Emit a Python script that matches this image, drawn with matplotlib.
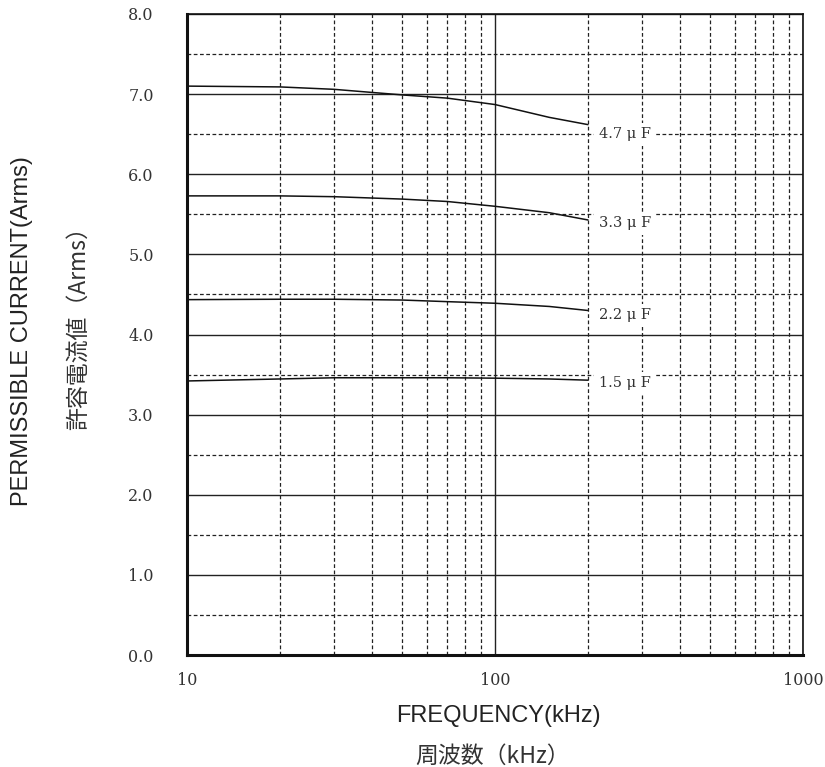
import matplotlib
matplotlib.use('Agg')
import matplotlib.pyplot as plt
from matplotlib.ticker import FixedLocator, NullFormatter

# data
freq = [10, 20, 30, 50, 70, 100, 150, 200]
i_47 = [7.10, 7.09, 7.06, 6.99, 6.95, 6.87, 6.71, 6.62]
i_33 = [5.73, 5.73, 5.72, 5.69, 5.66, 5.60, 5.52, 5.43]
i_22 = [4.435, 4.44, 4.44, 4.43, 4.41, 4.39, 4.35, 4.30]
i_15 = [3.42, 3.445, 3.46, 3.46, 3.46, 3.455, 3.445, 3.43]
series = [i_47, i_33, i_22, i_15]
labels = ['4.7 μ F', '3.3 μ F', '2.2 μ F', '1.5 μ F']
label_y = [6.5, 5.39, 4.24, 3.39]
label_x = 217

xticks = [10, 100, 1000]
xminor = [20, 30, 40, 50, 60, 70, 80, 90, 200, 300, 400, 500, 600, 700, 800, 900]
yticks = [0, 1, 2, 3, 4, 5, 6, 7, 8]
yminor = [0.5, 1.5, 2.5, 3.5, 4.5, 5.5, 6.5, 7.5]

fig = plt.figure(figsize=(8.25, 7.67), dpi=100)
ax = fig.add_axes([187/825, 112/767, 616/825, 641/767])

ax.set_xscale('log')
ax.set_xlim(10, 1000)
ax.set_ylim(0, 8)

ax.xaxis.set_major_locator(FixedLocator(xticks))
ax.xaxis.set_minor_locator(FixedLocator(xminor))
ax.xaxis.set_minor_formatter(NullFormatter())
ax.set_xticklabels([str(v) for v in xticks])
ax.yaxis.set_major_locator(FixedLocator(yticks))
ax.yaxis.set_minor_locator(FixedLocator(yminor))
ax.set_yticklabels(['%.1f' % v for v in yticks])

ax.grid(which='major', color='#222222', linestyle='-', linewidth=1.0)
ax.grid(which='minor', color='#222222', linestyle=(0, (3, 2)), linewidth=0.9)
ax.set_axisbelow(True)

ax.tick_params(which='both', length=0)
ax.tick_params(axis='y', pad=24, labelsize=11.5, labelcolor='#333333')
ax.tick_params(axis='x', pad=12, labelsize=11.5, labelcolor='#333333')
for lab in ax.get_xticklabels() + ax.get_yticklabels():
    lab.set_family('DejaVu Serif')

for sp in ax.spines.values():
    sp.set_color('#111111')
    sp.set_linewidth(1.2)
ax.spines['left'].set_linewidth(2.2)
ax.spines['bottom'].set_linewidth(2.2)

for ys, lab, ly in zip(series, labels, label_y):
    ax.plot(freq, ys, color='#111111', linewidth=1.1)
    ax.text(label_x, ly, lab, family='DejaVu Serif', fontsize=10.5, color='#333333',
            ha='left', va='center',
            bbox=dict(boxstyle='square,pad=0.3', facecolor='white', edgecolor='none'))

fig.text(498/825, 1 - 716/767, 'FREQUENCY(kHz)', family='Liberation Sans', fontsize=17,
         ha='center', va='center', color='#222222')
fig.text(493/825, 1 - 756/767, '周波数（kHz）', family=['Noto Sans CJK JP', 'DejaVu Sans'],
         fontsize=16.5, ha='center', va='center', color='#333333')
fig.text(22/825, 1 - 331/767, 'PERMISSIBLE CURRENT(Arms)', family='Liberation Sans', fontsize=17,
         rotation=90, ha='center', va='center', color='#222222')
fig.text(78/825, 1 - 323/767, '許容電流値（Arms）', family=['Noto Sans CJK JP', 'DejaVu Sans'],
         fontsize=16.5, rotation=90, ha='center', va='center', color='#333333')

fig.savefig('out.png', dpi=100)
